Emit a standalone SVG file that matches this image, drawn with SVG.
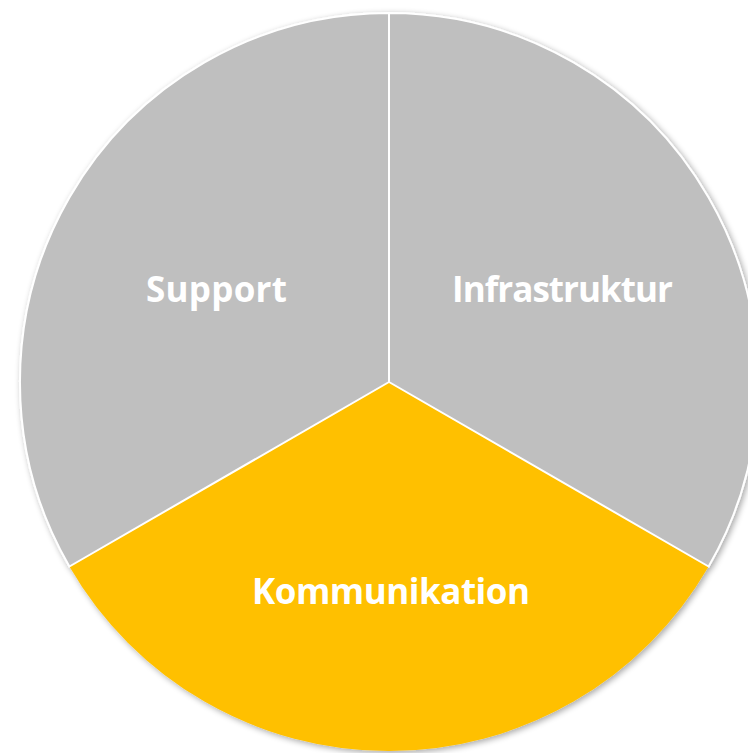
<svg xmlns="http://www.w3.org/2000/svg" width="748" height="753" viewBox="0 0 748 753">
  <defs>
    <filter id="sh" x="-10%" y="-10%" width="120%" height="120%">
      <feGaussianBlur in="SourceAlpha" stdDeviation="3"/>
      <feOffset dx="2" dy="2" result="b"/>
      <feComponentTransfer><feFuncA type="linear" slope="0.35"/></feComponentTransfer>
      <feMerge><feMergeNode/><feMergeNode in="SourceGraphic"/></feMerge>
    </filter>
  </defs>
  <style>
    .gray { fill: #BFBFBF; stroke: #FFFFFF; stroke-width: 2; stroke-linejoin: round; }
    .yellow { fill: #FFC000; }
    .lbl { font-family: "Open Sans", "Noto Sans", "DejaVu Sans", sans-serif; font-weight: bold; font-size: 35px; fill: #FFFFFF; text-anchor: middle; }
  </style>
  <rect width="748" height="753" fill="#FFFFFF"/>
  <g filter="url(#sh)">
    <g id="kommunikation">
      <path class="yellow" d="M389,382 L708.6,566.5 A369,369 0 0 1 69.4,566.5 Z"/>
    </g>
    <g id="infrastruktur">
      <path class="gray" d="M389,382 L389,13 A369,369 0 0 1 708.6,566.5 Z"/>
    </g>
    <g id="support">
      <path class="gray" d="M389,382 L69.4,566.5 A369,369 0 0 1 389,13 Z"/>
    </g>
  </g>
  <g id="labels">
    <text class="lbl" x="216.5" y="302" textLength="141" lengthAdjust="spacing">Support</text>
    <text class="lbl" x="562.5" y="302" textLength="221" lengthAdjust="spacing">Infrastruktur</text>
    <text class="lbl" x="391" y="604" textLength="278" lengthAdjust="spacing">Kommunikation</text>
  </g>
</svg>
